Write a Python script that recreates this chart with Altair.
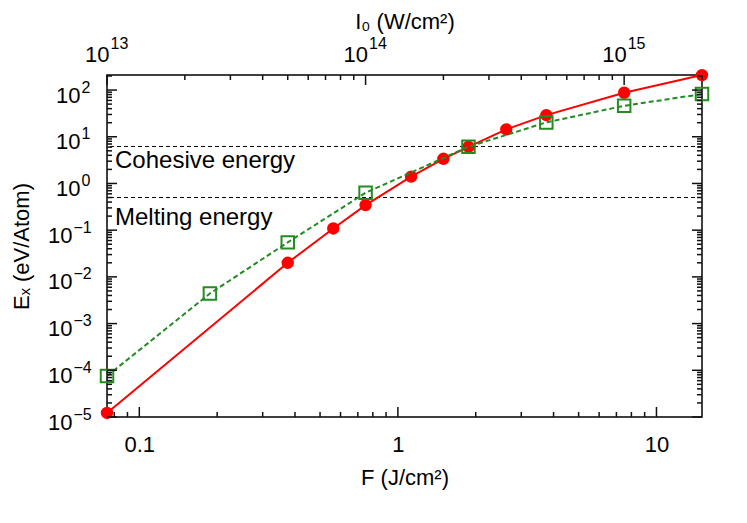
import altair as alt
import pandas as pd

# ---------------- data ----------------
F_red = [0.075, 0.375, 0.5625, 0.75, 1.125, 1.5, 1.875, 2.625, 3.75, 7.5, 15]
E_red = [1.22e-5, 0.020, 0.109, 0.344, 1.40, 3.37, 6.1, 14.4, 29.1, 87.5, 209]
F_green = [0.075, 0.1875, 0.375, 0.75, 1.875, 3.75, 7.5, 15]
E_green = [7.55e-5, 0.0044, 0.0548, 0.631, 6.1, 20.3, 46.1, 82]
I0_per_F = 1e13 / 0.075          # W/cm^2 per J/cm^2 (top axis)
energy_names = ["Cohesive energy", "Melting energy"]
energy_values = [6.2, 0.5]

x_domain = [0.075, 15]
i_domain = [1e13, 2e15]
y_domain = [1e-5, 210]
F_labels = [0.1, 1, 10]
I_exps = [13, 14, 15]
Y_pos_exps = [0, 1, 2]
Y_neg_exps = [-5, -4, -3, -2, -1]

W, H = 595, 342
FONT = "Liberation Sans"
FS = 22          # main text size
FS_SUP = 16      # superscript size
RED = "#ff0000"
GREEN = "#228b22"
MAJ, MIN = 10, 5


def log_ticks(lo, hi, minor):
    vals = []
    for e in range(-6, 17):
        for k in (range(2, 10) if minor else [1]):
            v = float(f"{k}e{e}")
            if lo * (1 - 1e-9) <= v <= hi * (1 + 1e-9):
                vals.append(v)
    return vals


def exp_expr():
    return "'' + round(log(datum.value)/LN10)"


red_df = pd.DataFrame({"F": F_red, "E": E_red})
green_df = pd.DataFrame({"F": F_green, "E": E_green})
i_df = pd.DataFrame({"I": [f * I0_per_F for f in F_red], "E": E_red})
lines_df = pd.DataFrame({"name": energy_names, "E": energy_values})


def X(axis, field="F", dom=x_domain):
    return alt.X(f"{field}:Q", scale=alt.Scale(type="log", domain=dom, nice=False), axis=axis)


def Y(axis, field="E"):
    return alt.Y(f"{field}:Q", scale=alt.Scale(type="log", domain=y_domain, nice=False), axis=axis)


lab = dict(domain=False, grid=False, ticks=False, labelOverlap=False, labelFlush=False, labelBound=False)

# ---- label axes (power-of-ten labels drawn as "10" plus a raised exponent) ----
ax_bottom = alt.Axis(orient="bottom", values=F_labels, format="~g", labelPadding=17,
                     labelFontSize=FS, title="F (J/cm²)", titlePadding=12, **lab)
ax_top_main = alt.Axis(orient="top", values=[10.0 ** e for e in I_exps], labelExpr="'10'",
                       labelAlign="right", labelOffset=2, labelBaseline="alphabetic",
                       labelPadding=14, labelFontSize=FS, title=None, **lab)
ax_top_exp = alt.Axis(orient="top", values=[10.0 ** e for e in I_exps], labelExpr=exp_expr(),
                      labelAlign="left", labelOffset=3, labelBaseline="alphabetic",
                      labelPadding=27, labelFontSize=FS_SUP, title="I₀ (W/cm²)", titlePadding=2, **lab)
ax_left_main_pos = alt.Axis(orient="left", values=[10.0 ** e for e in Y_pos_exps], labelExpr="'10'",
                            labelAlign="right", labelBaseline="alphabetic", labelOffset=12,
                            labelPadding=27, labelFontSize=FS, title=None, **lab)
ax_left_main_neg = alt.Axis(orient="left", values=[10.0 ** e for e in Y_neg_exps], labelExpr="'10'",
                            labelAlign="right", labelBaseline="alphabetic", labelOffset=12,
                            labelPadding=35, labelFontSize=FS, title="Eₓ (eV/Atom)", titlePadding=14, **lab)
ax_left_exp_pos = alt.Axis(orient="left", values=[10.0 ** e for e in Y_pos_exps], labelExpr=exp_expr(),
                           labelAlign="left", labelBaseline="alphabetic", labelOffset=2,
                           labelPadding=26, labelFontSize=FS_SUP, title=None, **lab)
ax_left_exp_neg = alt.Axis(orient="left", values=[10.0 ** e for e in Y_neg_exps],
                           labelExpr="'−' + (-round(log(datum.value)/LN10))",
                           labelAlign="left", labelBaseline="alphabetic", labelOffset=2,
                           labelPadding=34, labelFontSize=FS_SUP, title=None, **lab)


def carrier(xa, ya, on_i=False):
    if on_i:
        return alt.Chart(i_df).mark_point(opacity=0).encode(x=X(xa, "I", i_domain), y=Y(ya))
    return alt.Chart(red_df).mark_point(opacity=0).encode(x=X(xa), y=Y(ya))


carriers = [
    carrier(ax_bottom, ax_left_main_pos),
    carrier(None, ax_left_main_neg),
    carrier(None, ax_left_exp_pos),
    carrier(ax_top_main, ax_left_exp_neg, True),
    carrier(ax_top_exp, None, True),
]


# ---- inward ticks on all four sides of the frame ----
def y_ticks(minor, right):
    df = pd.DataFrame({"t": log_ticks(*y_domain, minor)})
    n = MIN if minor else MAJ
    x0, x1 = (W - n, W) if right else (0, n)
    return alt.Chart(df).mark_rule(color="#111111", strokeWidth=1.5).encode(
        y=Y(None, "t"), x=alt.value(x0), x2=alt.value(x1))


def x_ticks(minor, top):
    dom = i_domain if top else x_domain
    df = pd.DataFrame({"t": log_ticks(*dom, minor)})
    n = MIN if minor else MAJ
    y0, y1 = (0, n) if top else (H - n, H)
    return alt.Chart(df).mark_rule(color="#111111", strokeWidth=1.5).encode(
        x=X(None, "t", dom), y=alt.value(y0), y2=alt.value(y1))


ticks = [y_ticks(m, r) for m in (False, True) for r in (False, True)] + \
        [x_ticks(m, t) for m in (False, True) for t in (False, True)]

red_line = alt.Chart(red_df).mark_line(color=RED, strokeWidth=2).encode(x=X(None), y=Y(None))
red_pts = alt.Chart(red_df).mark_point(shape="circle", filled=True, color=RED, size=154, opacity=1).encode(
    x=X(None), y=Y(None))
green_line = alt.Chart(green_df).mark_line(color=GREEN, strokeWidth=2, strokeDash=[5, 3]).encode(
    x=X(None), y=Y(None))
green_pts = alt.Chart(green_df).mark_point(shape="square", filled=False, color=GREEN, size=156,
                                           strokeWidth=2, opacity=1).encode(x=X(None), y=Y(None))
hlines = alt.Chart(lines_df).mark_rule(color="black", strokeWidth=1, strokeDash=[4, 3]).encode(y=Y(None))
txt_coh = alt.Chart(lines_df).transform_filter(alt.datum.name == energy_names[0]).mark_text(
    align="left", baseline="alphabetic", dy=22, font=FONT, fontSize=24, color="black").encode(
    x=alt.value(8), y=Y(None), text="name:N")
txt_melt = alt.Chart(lines_df).transform_filter(alt.datum.name == energy_names[1]).mark_text(
    align="left", baseline="alphabetic", dy=27, font=FONT, fontSize=24, color="black").encode(
    x=alt.value(8), y=Y(None), text="name:N")

chart = alt.layer(
    *carriers, hlines, txt_coh, txt_melt, red_line, red_pts, green_line, green_pts, *ticks
).resolve_scale(x="independent", y="shared").resolve_axis(
    x="independent", y="independent"
).properties(
    width=W, height=H,
    autosize=alt.AutoSizeParams(type="none"),
    padding={"left": 99, "top": 67, "right": 29, "bottom": 90},
    background="white",
).configure_view(stroke="black", strokeWidth=1.5).configure_axis(
    labelFont=FONT, titleFont=FONT, titleFontSize=FS,
    labelColor="black", titleColor="black", titleFontWeight="normal",
)

chart.save("out.html", embed_options={"renderer": "svg", "actions": False})
